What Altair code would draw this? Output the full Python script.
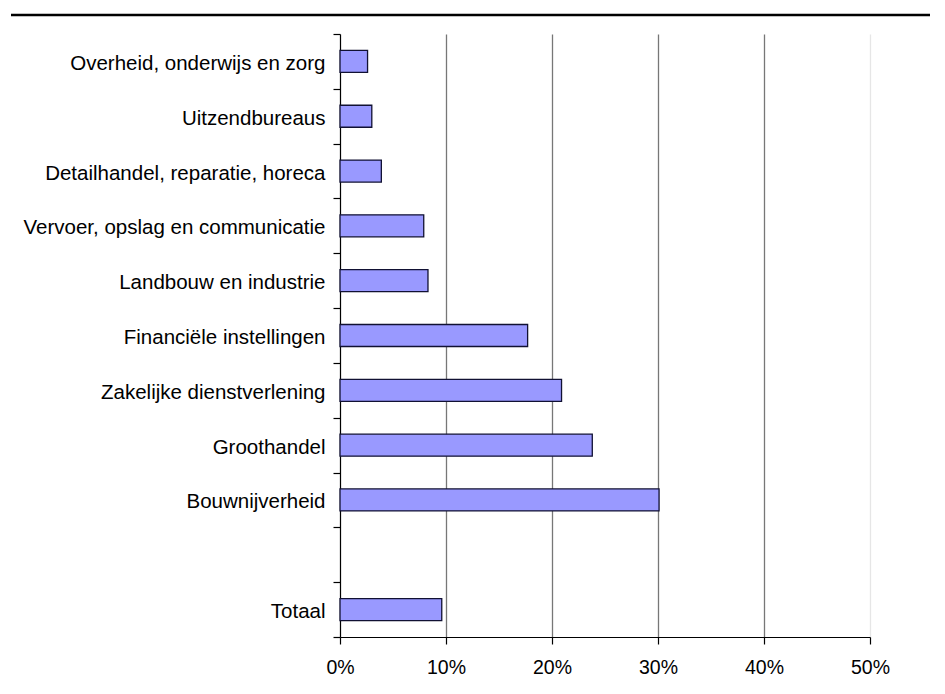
import altair as alt
import pandas as pd

categories = [
    "Overheid, onderwijs en zorg",
    "Uitzendbureaus",
    "Detailhandel, reparatie, horeca",
    "Vervoer, opslag en communicatie",
    "Landbouw en industrie",
    "Financiële instellingen",
    "Zakelijke dienstverlening",
    "Groothandel",
    "Bouwnijverheid",
    "Totaal",
]
values = [0.026, 0.030, 0.039, 0.079, 0.083, 0.177, 0.209, 0.238, 0.301, 0.096]
axis_order = categories[:9] + ["gap"] + ["Totaal"]
x_ticks = [0, 0.1, 0.2, 0.3, 0.4, 0.5]

df = pd.DataFrame({"cat": categories, "val": values})

FONT = "Liberation Sans"

bars = alt.Chart(df).mark_bar(
    height=22, fill="#9999FF", stroke="#111133", strokeWidth=1.3
).encode(
    x=alt.X(
        "val:Q",
        scale=alt.Scale(domain=[0, 0.5], nice=False),
        axis=alt.Axis(
            values=x_ticks, format=".0%", title=None,
            grid=True,
            gridColor={"condition": {"test": "datum.value >= 0.5 || datum.value <= 0", "value": "#e6e6e6"}, "value": "#777777"},
            gridWidth=1.3,
            domainColor="#000000", domainWidth=1.2,
            tickColor="#000000", tickSize=7, tickWidth=1.2,
            labelFont=FONT, labelFontSize=19.5, labelColor="#000000",
            labelPadding=14, labelFlush=False,
        ),
    ),
    y=alt.Y(
        "cat:N",
        sort=axis_order,
        scale=alt.Scale(domain=axis_order, paddingInner=0, paddingOuter=0),
        axis=alt.Axis(
            title=None, tickBand="extent",
            labelExpr="datum.value == 'gap' ? '' : datum.value",
            domainColor="#000000", domainWidth=1.2,
            tickColor="#000000", tickSize=7, tickWidth=1.2,
            labelFont=FONT, labelFontSize=20.5, labelColor="#000000",
            labelPadding=8, labelLimit=400, labelOffset=2,
        ),
    ),
)

top_line = alt.Chart(pd.DataFrame({"d": [0]})).mark_rule(
    color="#000000", strokeWidth=2.5, clip=False
).encode(
    x=alt.value(-329), x2=alt.value(610), y=alt.value(-19)
)

chart = alt.layer(bars, top_line).properties(
    width=530, height=603,
    autosize=alt.AutoSizeParams(type="none"),
    padding={"left": 332, "top": 26, "right": 60, "bottom": 50},
).configure_view(stroke=None).configure_axis(grid=False)

chart.save("out.html", embed_options={"renderer": "svg", "actions": False})
